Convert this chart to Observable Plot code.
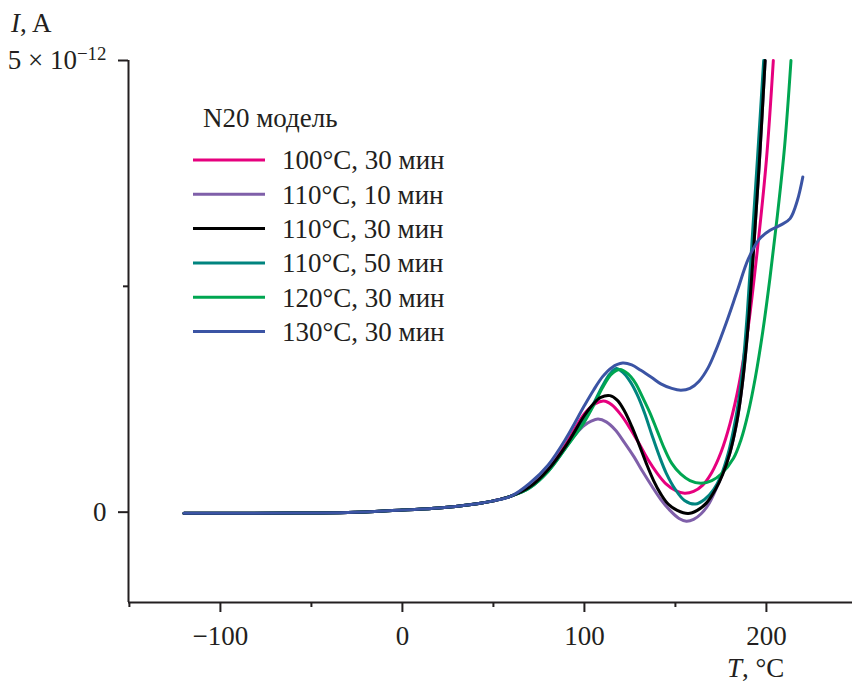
<!DOCTYPE html>
<html><head><meta charset="utf-8">
<script src="https://cdn.jsdelivr.net/npm/d3@7"></script>
<script src="https://cdn.jsdelivr.net/npm/@observablehq/plot@0.6"></script>
<style>
body{margin:0;background:#fff;}
#wrap{position:relative;width:852px;height:684px;font-family:"Liberation Serif","Times New Roman",serif;color:#231f20;overflow:hidden;}
.lbl{position:absolute;font-size:27px;white-space:nowrap;line-height:24px;}
#legend{position:absolute;left:0;top:0;}
</style></head><body><div id="wrap"></div>
<script>
// ---- data (current in units of 1e-12 A, temperature in °C) ----
const seriesNames = ["100°C, 30 мин","110°C, 10 мин","110°C, 30 мин","110°C, 50 мин","120°C, 30 мин","130°C, 30 мин"];
const seriesColors = ["#e6007e","#7f5fa9","#000000","#00847f","#00a651","#3b54a4"];
const legendTitle = "N20 модель";

const trunkT = [-120,-90,-60,-30,0,20,40,50,60];
const trunkI = [-0.012,-0.012,-0.01,-0.003,0.025,0.045,0.09,0.125,0.18];

const pinkT = [70,80,90,100,106,110.5,115,120,125,130,135,140,145,150,155,160,165,170,175,180,185,190,195,200,203.8];
const pinkI = [0.28,0.47,0.76,1.09,1.2,1.23,1.19,1.08,0.93,0.76,0.58,0.43,0.31,0.24,0.21,0.23,0.3,0.44,0.66,0.98,1.42,2.05,2.9,3.9,5.0];

const purpleT = [70,80,90,95,100,104,107.5,112,117,122,127,132,137,142,147,152,156,160,164,168,172,176,180,183,185.5,188,190.5,193,196.2,199.3];
const purpleI = [0.28,0.47,0.74,0.86,0.96,1.01,1.03,1.0,0.91,0.77,0.62,0.45,0.29,0.14,0.02,-0.07,-0.1,-0.08,-0.02,0.08,0.24,0.43,0.66,0.92,1.22,1.64,2.2,2.92,3.9,5.0];

const blackT = [70,80,90,100,105,109,114,118,122,126,130,134,138,142,146,151,157,162,167,172,176,180,183,185.5,188,190.5,193,196.2,199.3];
const blackI = [0.28,0.47,0.74,1.07,1.2,1.27,1.29,1.24,1.12,0.95,0.75,0.54,0.35,0.2,0.09,0.02,-0.015,0.02,0.1,0.25,0.42,0.66,0.92,1.22,1.64,2.2,2.92,3.9,5.0];

const tealT = [70,80,90,100,105,110,114,117.5,121,125,129,133,137,141,145,150,155,161,166,171,175,179,182,184.5,187,189.5,192.1,195.2,198.5];
const tealI = [0.27,0.45,0.72,1.02,1.2,1.4,1.53,1.59,1.55,1.45,1.3,1.1,0.86,0.63,0.43,0.25,0.13,0.09,0.14,0.25,0.4,0.65,0.92,1.2,1.6,2.2,3.0,3.95,5.0];

const greenT = [70,80,90,100,105,110,115,119.5,124,128,132,136,140,144,148,153,158,164,170,175,182,186,190,194,198,202,206,210,213.5];
const greenI = [0.27,0.45,0.72,1.0,1.18,1.38,1.53,1.58,1.53,1.43,1.27,1.1,0.9,0.7,0.54,0.42,0.35,0.32,0.35,0.42,0.6,0.8,1.1,1.5,2.0,2.6,3.28,4.05,5.0];

const blueT = [70,80,90,100,105,110,115,121,126,131,137,142,148,153,158,163,168,172,178,184,190,196,202,208,213,217,220];
const blueI = [0.32,0.52,0.82,1.18,1.35,1.5,1.6,1.65,1.63,1.57,1.49,1.42,1.37,1.35,1.37,1.45,1.6,1.78,2.1,2.45,2.8,3.02,3.12,3.18,3.25,3.45,3.71];

const xMajorTicks = [-100,0,100,200];
const xMinorTicks = [-150,-50,50,150];
const yMajorTicks = [0,5];
const yMinorTicks = [2.5];

// ---- build table ----
const seriesT = [pinkT,purpleT,blackT,tealT,greenT,blueT];
const seriesI = [pinkI,purpleI,blackI,tealI,greenI,blueI];
const drawOrder = [1,0,3,4,2,5];
const rows = [];
for (const k of drawOrder) {
  const name = seriesNames[k];
  trunkT.forEach((t,i)=>rows.push({series:name,T:t,I:trunkI[i]}));
  seriesT[k].forEach((t,i)=>rows.push({series:name,T:t,I:seriesI[k][i]}));
}

const ink = "#231f20";
const serif = '"Liberation Serif","Times New Roman",serif';
const plot = Plot.plot({
  width:852, height:684,
  marginTop:60, marginLeft:128, marginBottom:82, marginRight:0,
  style:{fontFamily:serif, fontSize:"27px", color:ink, background:"white", overflow:"visible"},
  x:{domain:[-150.5,247.3]},
  y:{domain:[-1,5]},
  color:{domain:seriesNames, range:seriesColors},
  marks:[
    Plot.ruleY([-1],{stroke:ink,strokeWidth:2}),
    Plot.ruleX([-150.5],{stroke:ink,strokeWidth:2}),
    Plot.axisX({ticks:xMajorTicks, tickSize:10, tickPadding:13, strokeWidth:2, label:null}),
    Plot.axisX({ticks:xMinorTicks, tickSize:5, strokeWidth:2, tickFormat:()=>"", label:null}),
    Plot.axisY({ticks:yMajorTicks, tickSize:10, tickPadding:12, strokeWidth:2, label:null,
      tickFormat:d=> d===0 ? "0" : "5 × 10−12"}),
    Plot.axisY({ticks:yMinorTicks, tickSize:5, strokeWidth:2, tickFormat:()=>"", label:null}),
    Plot.line(rows,{x:"T", y:"I", z:"series", stroke:"series", strokeWidth:3, curve:"catmull-rom"})
  ]
});
const wrap = document.getElementById("wrap");
wrap.appendChild(plot);

// superscript exponent
d3.select(plot).selectAll("text").each(function(){
  if (this.textContent === "5 × 10−12") {
    this.textContent = "";
    const s = d3.select(this);
    s.append("tspan").text("5 × 10");
    s.append("tspan").attr("dy","-0.5em").attr("font-size","0.7em").text("−12");
  }
});

// axis titles
const yl = document.createElement("div");
yl.className = "lbl"; yl.style.left = "11px"; yl.style.top = "11px";
yl.innerHTML = "<i>I</i>, A";
wrap.appendChild(yl);
const xl = document.createElement("div");
xl.className = "lbl"; xl.style.left = "727px"; xl.style.top = "656px";
xl.innerHTML = "<i>T</i>, °C";
wrap.appendChild(xl);

// legend
const lg = d3.select(wrap).append("svg").attr("id","legend").attr("width",852).attr("height",684)
  .style("font-family",serif).style("font-size","27px");
lg.append("text").attr("x",203).attr("y",118).attr("dy","0.35em").attr("fill",ink).text(legendTitle);
seriesNames.forEach((n,i)=>{
  const y = 160 + i*34.3;
  lg.append("line").attr("x1",193).attr("x2",265).attr("y1",y).attr("y2",y)
    .attr("stroke",seriesColors[i]).attr("stroke-width",3);
  lg.append("text").attr("x",282).attr("y",y).attr("dy","0.35em").attr("fill",ink).text(n);
});
</script></body></html>
